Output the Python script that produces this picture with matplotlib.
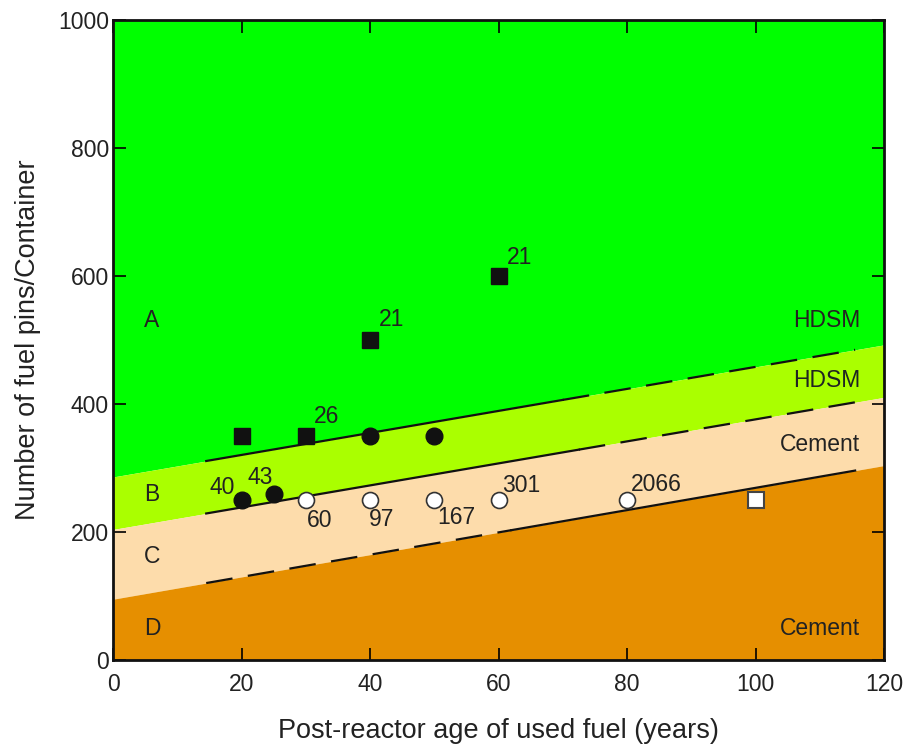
import numpy as np
import matplotlib.pyplot as plt

plt.rcParams['font.family'] = ['Liberation Sans', 'DejaVu Sans']

# region boundaries: y = intercept + slope * age
bound_names = ["A/B", "B/C", "C/D"]
bound_icpt = [286, 204, 95]
bound_slope = [1.72, 1.72, 1.74]

region_colors = ["#00ff00", "#aaff00", "#fddcab", "#e68f00"]

# black line segments drawn on the boundaries (solid part, dashed part)
solid_rng = [(14.5, 70), (14.5, 72.5), (62, 115.5)]
dash_rng = [(70, 115.5), (72.5, 115.5), (14.5, 62)]

# data points
sq_black_x = [20, 30, 40, 60]
sq_black_y = [350, 350, 500, 600]
ci_black_x = [20, 25, 40, 50]
ci_black_y = [250, 260, 350, 350]
ci_white_x = [30, 40, 50, 60, 80]
ci_white_y = [250, 250, 250, 250, 250]
sq_white_x = [100]
sq_white_y = [250]

# number labels next to points
lab_txt = ["26", "21", "21", "40", "43", "60", "97", "167", "301", "2066"]
lab_x = [31.3, 41.3, 61.3, 15.0, 21.0, 30.2, 39.8, 50.5, 60.6, 80.6]
lab_y = [380, 532, 629, 270, 285, 218, 220, 223, 272, 274]

reg_lbl = ["A", "B", "C", "D"]
reg_lbl_y = [531, 258, 162, 50]
mat_lbl = ["HDSM", "HDSM", "Cement", "Cement"]
mat_lbl_y = [531, 437, 336, 50]

fig = plt.figure(figsize=(9.08, 7.44), dpi=100)
ax = fig.add_axes([0.1245, 0.1129, 0.8491, 0.8602])

xx = np.array([0, 120])
lines = [bound_icpt[i] + bound_slope[i] * xx for i in range(3)]
ax.fill_between(xx, lines[0], 1000, color=region_colors[0], lw=0)
ax.fill_between(xx, lines[1], lines[0], color=region_colors[1], lw=0)
ax.fill_between(xx, lines[2], lines[1], color=region_colors[2], lw=0)
ax.fill_between(xx, 0, lines[2], color=region_colors[3], lw=0)

for i in range(3):
    a, b = solid_rng[i]
    xs = np.array([a, b])
    ax.plot(xs, bound_icpt[i] + bound_slope[i] * xs, color="#111111", lw=1.6)
    a, b = dash_rng[i]
    xs = np.array([a, b])
    ax.plot(xs, bound_icpt[i] + bound_slope[i] * xs, color="#111111", lw=1.6,
            dashes=(12, 7))

ax.plot(sq_black_x, sq_black_y, "s", color="#111111", ms=11.5, zorder=5)
ax.plot(ci_black_x, ci_black_y, "o", color="#111111", ms=12, zorder=5)
ax.plot(ci_white_x, ci_white_y, "o", mfc="white", mec="#333333", mew=1.2,
        ms=11.5, zorder=5)
ax.plot(sq_white_x, sq_white_y, "s", mfc="white", mec="#444444", mew=1.5,
        ms=11, zorder=5)

for t, x, y in zip(lab_txt, lab_x, lab_y):
    ax.text(x, y, t, fontsize=16.5, color="#222222", va="center", ha="left")

for t, y in zip(reg_lbl, reg_lbl_y):
    ax.text(4.8, y, t, fontsize=16.5, color="#222222", va="center", ha="left")
for t, y in zip(mat_lbl, mat_lbl_y):
    ax.text(116.3, y, t, fontsize=16.5, color="#222222", va="center", ha="right")

ax.set_xlim(0, 120)
ax.set_ylim(0, 1000)
ax.set_xticks(range(0, 121, 20))
ax.set_yticks(range(0, 1001, 200))
ax.tick_params(direction="in", length=9, width=1.2, top=True, right=True,
               labelsize=16.5, labelcolor="#222222")
ax.tick_params(axis="x", pad=9)
ax.tick_params(axis="y", pad=3)
for s in ax.spines.values():
    s.set_linewidth(2)
    s.set_color("#111111")

ax.set_xlabel("Post-reactor age of used fuel (years)", fontsize=19.5,
              color="#222222", labelpad=16)
ax.set_ylabel("Number of fuel pins/Container", fontsize=19.5,
              color="#222222", labelpad=12)

fig.savefig("out.png", dpi=100)
